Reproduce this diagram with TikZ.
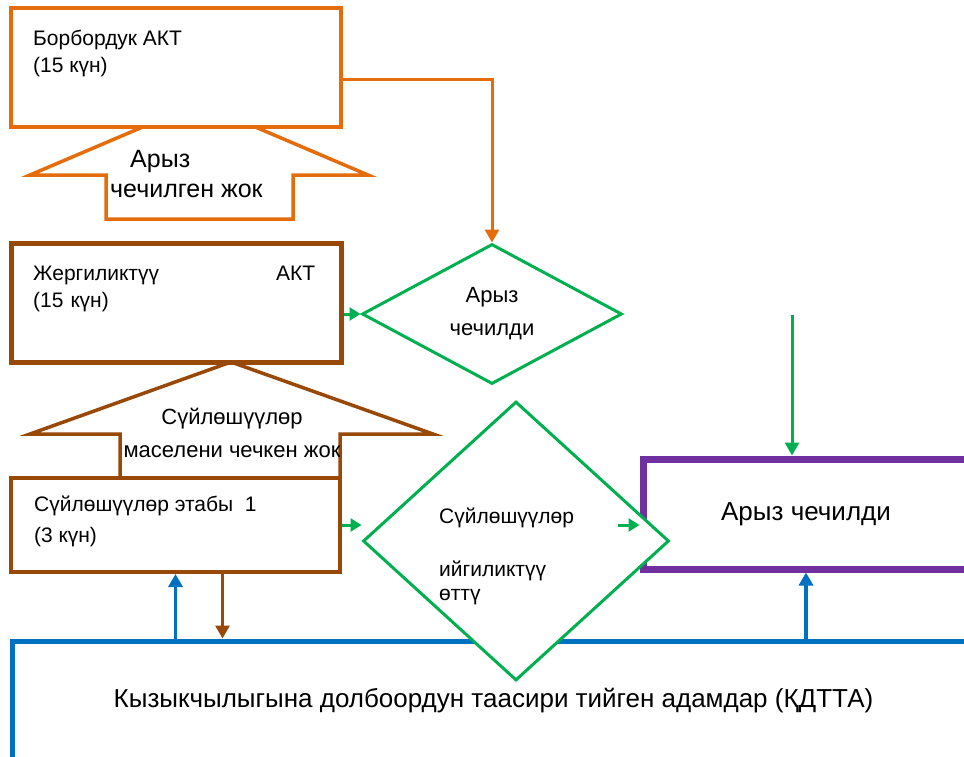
\documentclass[tikz,border=0pt]{standalone}
\usepackage{fontspec}
\setmainfont{Liberation Sans}
\usetikzlibrary{arrows.meta, shapes.geometric, positioning}
\definecolor{akt}{HTML}{E46C0A}
\definecolor{brn}{HTML}{984807}
\definecolor{grn}{HTML}{00B050}
\definecolor{prp}{HTML}{7030A0}
\definecolor{blu}{HTML}{0070C0}

\begin{document}
\begin{tikzpicture}[x=1pt, y=-1pt]
	\tikzset {>={Triangle[length=13pt,width=14pt]}, box/.style={rectangle, draw, fill=white, inner sep=0pt},
		rhomb/.style={diamond, draw=grn, line width=3pt, fill=white, inner sep=0pt},
		txt/.style={anchor=base west, inner sep=0pt, align=left},
		garrow/.style={grn, line width=3pt, ->}, small/.style={-{Triangle[length=11pt,width=13pt]}},
		fa/.style={font=\fontsize{21}{27}\selectfont}, fb/.style={font=\fontsize{22}{33}\selectfont},
		fc/.style={font=\fontsize{25}{30}\selectfont}, fd/.style={font=\fontsize{26}{30}\selectfont}}
	\useasboundingbox (0,0) rectangle (964,756);
	\clip (0,0) rectangle (964,756);

	% people affected
	\node[box, draw=blu, line width=5pt, minimum width=963pt, minimum height=119pt, fd] (kd) at (493.5,700.5)
		{Кызыкчылыгына долбоордун таасири тийген адамдар (ҚДТТА)};

	% block arrows
	\draw[akt, line width=3.5pt, fill=white] (199,103) -- (30,175) -- (106,175) -- (106,219) -- (293,219) -- (293,175) -- (368,175) -- cycle;
	\draw[brn, line width=3.5pt, fill=white] (231,362) -- (30,434) -- (120,434) -- (120,478) -- (340,478) -- (340,434) -- (433,434) -- cycle;
	\node[txt, fc] (not1) at (110,197) {\hspace*{20pt}Арыз\\чечилген жок};
	\node[anchor=base, inner sep=0pt, align=center, fb] (not2) at (232,457) {Сүйлөшүүлөр\\маселени чечкен жок};

	% boxes
	\node[box, draw=akt, line width=4pt, minimum width=330pt, minimum height=119pt] (cak) at (176,67.5) {};
	\node[box, draw=brn, line width=5pt, minimum width=330pt, minimum height=119pt] (lak) at (176,302.5) {};
	\node[box, draw=brn, line width=4pt, minimum width=329pt, minimum height=94pt] (st1) at (175.5,525) {};
	\node[box, draw=prp, line width=7pt, minimum width=326pt, minimum height=110pt, fd] (res) at (806,514) {Арыз чечилди};
	\node[txt, fa] (cakt) at (33,72) {Борбордук АКТ\\(15 күн)};
	\node[txt, fa, text width=282pt] (lakt) at (33,280) {Жергиликтүү\hfill АКТ\\(15 күн)};
	\node[txt, font=\fontsize{21}{31}\selectfont] (st1t) at (34,542) {Сүйлөшүүлөр этабы\ \ 1\\(3 күн)};

	% decisions
	\node[rhomb, minimum width=260pt, minimum height=140pt, align=center, fb] (d1) at (492,314) {Арыз\\чечилди};
	\node[rhomb, minimum width=306pt, minimum height=279pt] (d2) at (516,541) {};
	\node[txt, font=\fontsize{21}{24}\selectfont] (d2t) at (439,600) {Сүйлөшүүлөр\\[29pt]ийгиликтүү\\өттү};

	% connectors
	\coordinate (gtop) at (792,315);
	\coordinate (gin) at (st1.east -| res.west);
	\coordinate (bd) at ([xshift=47pt]st1.south);
	\draw[akt, line width=3pt, ->] ([yshift=-12pt]cak.east) -| (d1.north);
	\draw[garrow, small] (lak.east |- d1.west) -- (d1.west);
	\draw[garrow, small] (st1.east) -- (st1.east -| d2.west);
	\draw[garrow, small] ([xshift=-22pt]gin) -- (gin);
	\draw[garrow] (gtop) -- (gtop |- res.north);
	\draw[blu, line width=3.5pt, ->] (st1.south |- kd.north) -- (st1.south);
	\draw[blu, line width=3.5pt, ->] (res.south |- kd.north) -- (res.south);
	\draw[brn, line width=3pt, ->] (bd) -- (bd |- kd.north);
\end{tikzpicture}
\end{document}
